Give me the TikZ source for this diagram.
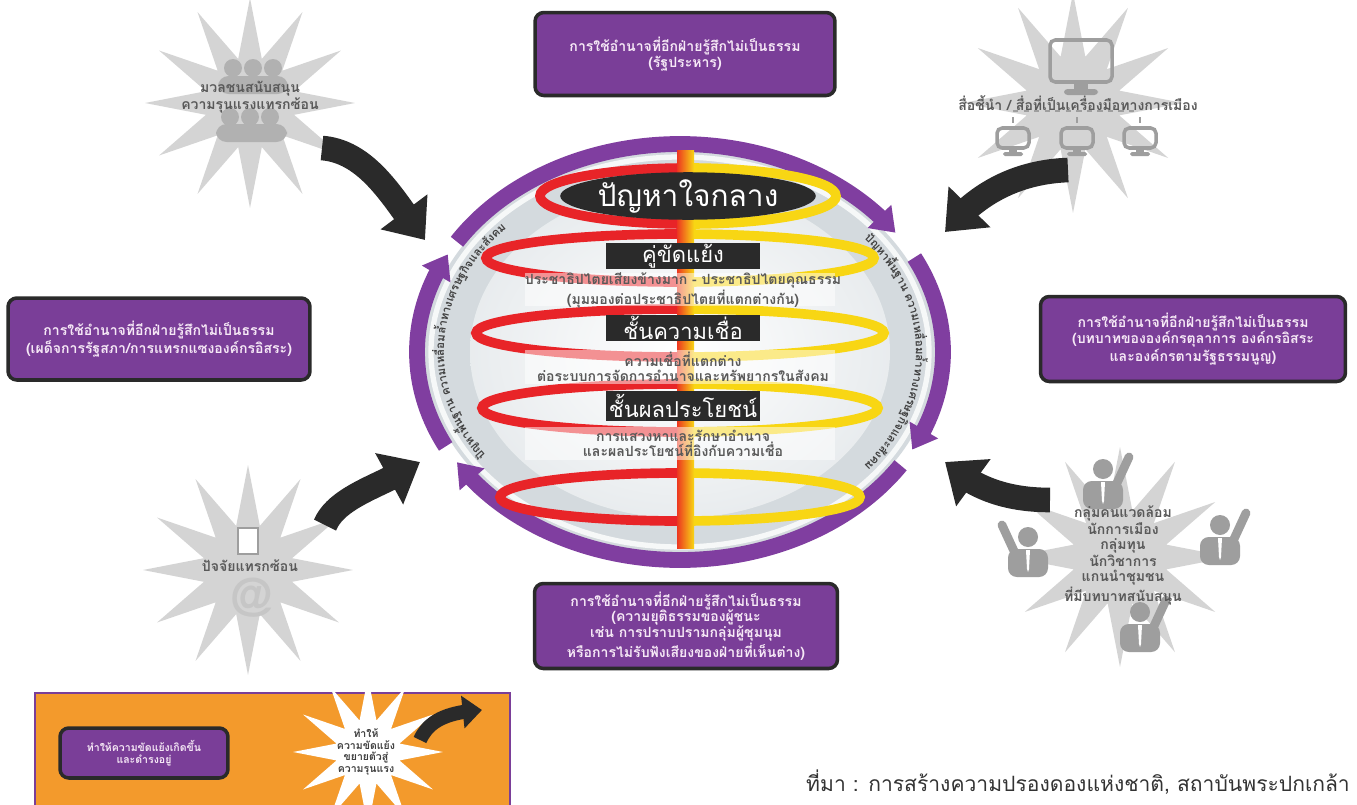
\documentclass[tikz,border=0pt]{standalone}
\usepackage{fontspec}
\setmainfont[Script=Thai]{Loma}
\usetikzlibrary{arrows.meta,bending,shapes.geometric,decorations.text,calc}
\definecolor{boxpurple}{RGB}{122,62,152}
\definecolor{boxtext}{RGB}{246,232,246}
\definecolor{ringpurple}{RGB}{128,62,160}
\definecolor{arrowblack}{RGB}{42,42,42}
\definecolor{burstgray}{RGB}{212,212,212}
\definecolor{icongray}{RGB}{158,158,158}
\definecolor{coilred}{RGB}{232,36,40}
\definecolor{coilyellow}{RGB}{248,214,20}
\definecolor{legendorange}{RGB}{243,154,44}
\definecolor{bandgray}{RGB}{212,218,222}
\definecolor{discgray}{RGB}{236,239,241}
\tikzset{
	purplebox/.style={draw=arrowblack, line width=2pt, fill=boxpurple, rounded corners=5pt, text=boxtext, font=\bfseries\fontsize{8}{9}\selectfont, align=center},
	burst/.style={star, star points=12, star point ratio=2.3, fill=burstgray, inner sep=0pt},
	bursttext/.style={text=black!65, font=\bfseries\fontsize{8}{8.5}\selectfont, align=center},
	bigarrow/.style={draw=arrowblack, line width=14pt, -{Triangle[width=32pt,length=20pt]}},
	ringarrow/.style={draw=ringpurple, line width=9pt, -{Triangle[width=18pt,length=13pt]}},
	coilline/.style={line width=5.5pt},
	layerbox/.style={fill=arrowblack, text=white, font=\fontsize{12.5}{14}\selectfont, minimum width=3.1cm, minimum height=0.52cm, inner sep=0pt},
	layertext/.style={text=black!65, font=\bfseries\fontsize{8}{8.5}\selectfont, align=center},
	rowband/.style={fill=white, opacity=0.5},
	monitor/.style={draw=icongray, line width=2pt, rounded corners=3pt},
	ringtext/.style={decorate, decoration={text along path, text align=center, text={|\color{black!75}\bfseries\fontsize{6.5}{8}\selectfont|{ปั}{ญ}{ห}{า}{พื้}{น}{ฐ}{า}{น} {ค}{ว}{า}{ม}{เ}{ห}{ลื่}{อ}{ม}{ล้ำ}{ท}{า}{ง}{เ}{ศ}{ร}{ษ}{ฐ}{กิ}{จ}{แ}{ล}{ะ}{สั}{ง}{ค}{ม}}}},
}
\begin{document}
\begin{tikzpicture}[x=0.02cm, y=0.02cm]
	\useasboundingbox (0,0) rectangle (1357,-805);
	\fill [white] (0,0) rectangle (1357,-805);

	\node [burst, minimum size=4.2cm] (crowdburst) at (250,-103) {};
	\node [burst, minimum size=4.4cm] (mediaburst) at (1073,-103) {};
	\node [burst, minimum size=4.2cm] (factorburst) at (248,-570) {};
	\node [burst, minimum size=4.4cm] (groupburst) at (1120,-557) {};

	\foreach \hx in {233,253,273}{
		\fill [icongray!80] (\hx,-68) circle [radius=9];
		\fill [icongray!80] (\hx-3,-117) circle [radius=9];
	}
	\fill [icongray!80, rounded corners=6pt] (218,-76) rectangle (288,-94);
	\fill [icongray!80, rounded corners=6pt] (216,-124) rectangle (287,-142);
	\node [bursttext] (crowdtext) at (250,-97) {มวลชนสนับสนุน\\ความรุนแรงแทรกซ้อน};

	\draw [monitor] (1050,-40) rectangle (1112,-82);
	\fill [icongray] (1074,-82) rectangle (1088,-91);
	\fill [icongray, rounded corners=2pt] (1064,-89) rectangle (1098,-95);
	\foreach \mx in {1013,1077,1140}{
		\draw [icongray, line width=1.5pt] (\mx,-117) -- (\mx,-123);
		\draw [monitor] (\mx-16,-128) rectangle (\mx+16,-148);
		\fill [icongray] (\mx-4,-148) rectangle (\mx+4,-153);
		\fill [icongray, rounded corners=1pt] (\mx-10,-152) rectangle (\mx+10,-156);
	}
	\draw [icongray, line width=1.5pt, dashed] (1013,-111) -- (1135,-111);
	\node [bursttext] (mediatext) at (1078,-103) {สื่อชี้นำ / สื่อที่เป็นเครื่องมือทางการเมือง};

	\draw [icongray, fill=white, line width=1pt] (238,-528) rectangle (258,-554);
	\node [bursttext] (factortext) at (250,-566) {ปัจจัยแทรกซ้อน};
	\node [text=gray!45, font=\bfseries\fontsize{24}{24}\selectfont] (atsign) at (252,-598) {@};

	\foreach \px/\py/\s in {1103/485/1, 1028/553/-1, 1220/541/1, 1140/628/1}{
		\draw [icongray, line width=5pt, line cap=round] (\px+14*\s,-\py+2) -- (\px+26*\s,-\py+28);
		\fill [icongray] (\px,-\py+16) circle [radius=10];
		\fill [icongray, rounded corners=5pt] (\px-20,-\py+4) rectangle (\px+20,-\py-24);
		\fill [white] (\px-2,-\py+3) -- (\px+2,-\py+3) -- (\px+1,-\py-16) -- (\px,-\py-19) -- (\px-1,-\py-16) -- cycle;
	}
	\node [bursttext] (grouptext) at (1123,-555) {กลุ่มคนแวดล้อม\\นักการเมือง\\กลุ่มทุน\\นักวิชาการ\\แกนนำชุมชน\\ที่มีบทบาทสนับสนุน};

	\coordinate (ctr) at (680,-352);
	\fill [bandgray] (ctr) ellipse [x radius=256, y radius=201];
	\draw [white!80!bandgray, line width=3pt] (ctr) ellipse [x radius=249, y radius=195];
	\shade [inner color=white, outer color=discgray!85!bandgray] (ctr) ellipse [x radius=210, y radius=166];

	\draw [ringarrow] ($(ctr)+(148:263 and 208)$) arc [start angle=148, end angle=35, x radius=263, y radius=208];
	\draw [ringarrow] ($(ctr)+(27:263 and 208)$) arc [start angle=27, end angle=-28, x radius=263, y radius=208];
	\draw [ringarrow] ($(ctr)+(-33:263 and 208)$) arc [start angle=-33, end angle=-148, x radius=263, y radius=208];
	\draw [ringarrow] ($(ctr)+(-153:263 and 208)$) arc [start angle=-153, end angle=-208, x radius=263, y radius=208];

	\path [ringtext] ($(ctr)+(215:236 and 182)$) arc [start angle=215, end angle=137, x radius=236, y radius=182];
	\path [ringtext] ($(ctr)+(40:236 and 182)$) arc [start angle=40, end angle=-40, x radius=236, y radius=182];

	\coordinate (corec) at (688,-196);
	\draw [coilline, coilred] ($(corec)+(90:148 and 28)$) arc [start angle=90, end angle=270, x radius=148, y radius=28];
	\draw [coilline, coilyellow] ($(corec)+(-90:148 and 28)$) arc [start angle=-90, end angle=90, x radius=148, y radius=28];
	\foreach \ly/\lrx in {258/194, 333/204, 408/198, 497/180}{
		\draw [coilline, coilred] (680,-\ly+24) arc [start angle=90, end angle=270, x radius=\lrx, y radius=24];
		\draw [coilline, coilyellow] (680,-\ly-24) arc [start angle=-90, end angle=90, x radius=\lrx, y radius=24];
	}
	\shade [left color=coilred!80!orange, middle color=orange, right color=coilyellow] (677,-150) rectangle (694,-548);
	\fill [rowband] (525,-273) rectangle (835,-306);
	\fill [rowband] (525,-350) rectangle (835,-384);
	\fill [rowband] (525,-427) rectangle (835,-460);

	\node [ellipse, fill=arrowblack, text=white, minimum width=4.86cm, minimum height=0.84cm, inner sep=0pt, font=\fontsize{17}{18}\selectfont] (core) at (corec) {ปัญหาใจกลาง};
	\node [layerbox] (parties) at (683,-256) {คู่ขัดแย้ง};
	\node [layertext] (partiestext) at (683,-290) {ประชาธิปไตยเสียงข้างมาก - ประชาธิปไตยคุณธรรม\\(มุมมองต่อประชาธิปไตยที่แตกต่างกัน)};
	\node [layerbox] (belief) at (683,-328) {ชั้นความเชื่อ};
	\node [layertext] (belieftext) at (683,-367) {ความเชื่อที่แตกต่าง\\ต่อระบบการจัดการอำนาจและทรัพยากรในสังคม};
	\node [layerbox, minimum height=0.6cm] (interest) at (683,-406) {ชั้นผลประโยชน์};
	\node [layertext] (interesttext) at (683,-443) {การแสวงหาและรักษาอำนาจ\\และผลประโยชน์ที่อิงกับความเชื่อ};

	\node [purplebox, minimum width=6cm, minimum height=1.66cm] (topbox) at (685,-54) {การใช้อำนาจที่อีกฝ่ายรู้สึกไม่เป็นธรรม\\(รัฐประหาร)};
	\node [purplebox, minimum width=6.04cm, minimum height=1.64cm] (leftbox) at (159,-339) {การใช้อำนาจที่อีกฝ่ายรู้สึกไม่เป็นธรรม\\(เผด็จการรัฐสภา/การแทรกแซงองค์กรอิสระ)};
	\node [purplebox, minimum width=6.1cm, minimum height=1.7cm] (rightbox) at (1193,-339) {การใช้อำนาจที่อีกฝ่ายรู้สึกไม่เป็นธรรม\\(บทบาทขององค์กรตุลาการ องค์กรอิสระ\\และองค์กรตามรัฐธรรมนูญ)};
	\node [purplebox, minimum width=6.06cm, minimum height=1.7cm] (bottombox) at (686,-626) {การใช้อำนาจที่อีกฝ่ายรู้สึกไม่เป็นธรรม\\(ความยุติธรรมของผู้ชนะ\\เช่น การปราบปรามกลุ่มผู้ชุมนุม\\หรือการไม่รับฟังเสียงของฝ่ายที่เห็นต่าง)};

	\coordinate (tltail) at (322,-148);
	\coordinate (tltip) at (425,-240);
	\coordinate (trtail) at (1068,-170);
	\coordinate (trtip) at (945,-232);
	\coordinate (bltail) at (325,-525);
	\coordinate (bltip) at (420,-462);
	\coordinate (brtail) at (1050,-500);
	\coordinate (brtip) at (945,-462);
	\draw [bigarrow] (tltail) .. controls (372,-152) and (398,-208) .. (tltip);
	\draw [bigarrow] (trtail) .. controls (1015,-172) and (975,-195) .. (trtip);
	\draw [bigarrow] (bltail) .. controls (338,-495) and (385,-485) .. (bltip);
	\draw [bigarrow] (brtail) .. controls (1010,-500) and (975,-490) .. (brtip);

	\fill [legendorange] (35,-693) rectangle (510,-830);
	\draw [boxpurple, line width=1.5pt] (35,-693) rectangle (510,-830);
	\node [purplebox, minimum width=3.36cm, minimum height=1cm, font=\bfseries\fontsize{6}{7}\selectfont] (legendbox) at (144,-753) {ทำให้ความขัดแย้งเกิดขึ้น\\และดำรงอยู่};
	\node [burst, fill=white, minimum size=3cm] (legendburst) at (368,-752) {};
	\node [bursttext, text=black!75, font=\bfseries\fontsize{6}{6.5}\selectfont] (legendtext) at (366,-752) {ทำให้\\ความขัดแย้ง\\ขยายตัวสู่\\ความรุนแรง};
	\coordinate (legtail) at (420,-740);
	\coordinate (legtip) at (482,-710);
	\draw [draw=arrowblack, line width=8pt, -{Triangle[width=18pt,length=11pt]}] (legtail) .. controls (428,-722) and (445,-712) .. (legtip);

	\node [anchor=west, text=black!80, font=\fontsize{12}{14}\selectfont] (source) at (800,-782) {ที่มา : การสร้างความปรองดองแห่งชาติ, สถาบันพระปกเกล้า};
\end{tikzpicture}
\end{document}
